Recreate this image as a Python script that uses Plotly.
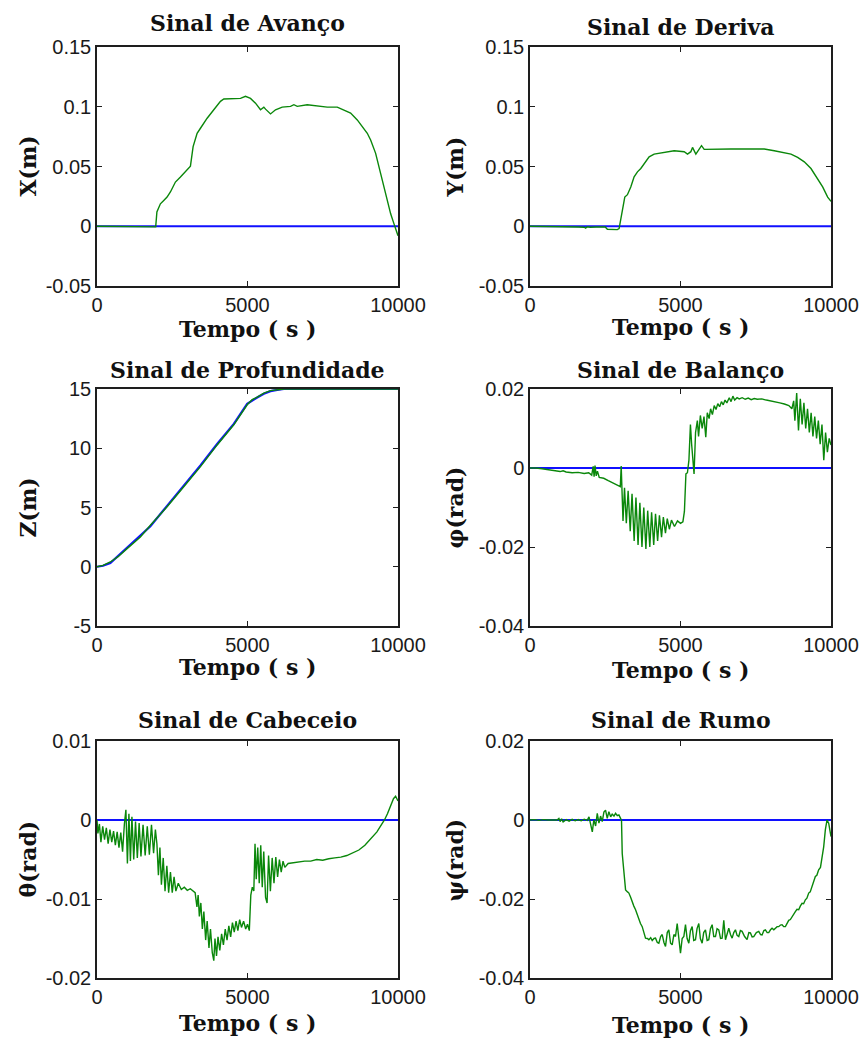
import plotly.graph_objects as go

W, H = 865, 1041

# ---------------------------------------------------------------- data
# reference (set-point) lines
t_ref = [0, 10000]
zero_ref = [0.0, 0.0]

# surge X (m)
t_x = [0, 900, 950, 1100, 1250, 1400, 1550, 1700, 1850, 1950,
       1990, 2106, 2217, 2328, 2439, 2605, 2772, 2938, 3104, 3193,
       3326, 3437, 3659, 3880, 4102, 4213, 4545, 4767, 4933, 5100,
       5266, 5432, 5543, 5599, 5765, 5931, 6153, 6430, 6541, 6652,
       6984, 7317, 7650, 7982, 8204, 8426, 8647, 8869, 8980, 9091,
       9257, 9424, 9590, 9756, 9867, 10000]
x_sig = [0.0, 0.0, -0.0005, -0.0003, -0.0006, -0.0004, -0.0006, -0.0005, -0.0006, -0.0005,
         0.012, 0.0188, 0.0216, 0.0244, 0.0287, 0.037, 0.0413, 0.0455, 0.0503, 0.0666,
         0.0778, 0.082, 0.0904, 0.0975, 0.1045, 0.1065, 0.1065, 0.107, 0.1087, 0.107,
         0.103, 0.0975, 0.0997, 0.098, 0.094, 0.0975, 0.0997, 0.1003, 0.1017, 0.1003,
         0.1017, 0.1008, 0.0997, 0.0997, 0.0975, 0.0947, 0.089, 0.082, 0.0778, 0.0722,
         0.061, 0.0441, 0.0272, 0.0104, 0.002, -0.0079]

# sway Y (m)
t_y = [0, 500, 550, 650, 800, 1000, 1200, 1400, 1600, 1800,
       1850, 1900, 2000, 2200, 2400, 2500, 2570, 2700, 2900, 2960,
       3015, 3071, 3149, 3237, 3348, 3459, 3570, 3681, 3792, 3958,
       4124, 4457, 4789, 5122, 5233, 5344, 5399, 5510, 5565, 5698,
       5787, 6120, 6674, 7228, 7783, 8115, 8448, 8670, 8892, 9113,
       9335, 9557, 9723, 9889, 10000]
y_sig = [0.0, 0.0, -0.0006, -0.0002, -0.0005, -0.0003, -0.0006, -0.0004, -0.0006, -0.0008,
         -0.0015, -0.0004, -0.0008, -0.0006, -0.0007, -0.0006, -0.0025, -0.0028, -0.0028, -0.002,
         0.0048, 0.0146, 0.0244, 0.0264, 0.0329, 0.0413, 0.0455, 0.0483, 0.0525, 0.0581,
         0.0604, 0.0618, 0.0632, 0.0624, 0.0604, 0.0624, 0.066, 0.0604, 0.0624, 0.0674,
         0.0643, 0.0646, 0.0646, 0.0646, 0.0646, 0.0632, 0.0618, 0.0604, 0.0576, 0.0539,
         0.0483, 0.0399, 0.0329, 0.0244, 0.0208]

# depth Z (m): measured and commanded
t_z = [0, 200, 443, 700, 998, 1441, 1774, 2328, 2882, 3437,
       3991, 4545, 4989, 5155, 5322, 5543, 5765, 5987, 6208, 10000]
z_sig = [0.0, 0.12, 0.4, 0.85, 1.53, 2.51, 3.5, 5.06, 6.75, 8.45,
         10.28, 11.98, 13.67, 14.1, 14.32, 14.66, 14.86, 14.94, 15.0, 15.0]
z_ref = [0.0, 0.08, 0.32, 0.92, 1.62, 2.6, 3.42, 5.14, 6.82, 8.55,
         10.36, 12.06, 13.75, 14.05, 14.28, 14.6, 14.82, 14.92, 15.0, 15.0]

# roll phi (rad)
t_phi = [0, 200, 400, 600, 800, 1000, 1100, 1200, 1400, 1600,
         1800, 1950, 2050, 2100, 2130, 2160, 2200, 2240, 2300, 2450,
         2600, 2750, 2900, 3000, 3030, 3060, 3090, 3140, 3200, 3260,
         3330, 3390, 3460, 3520, 3590, 3650, 3720, 3780, 3850, 3910,
         3980, 4040, 4110, 4170, 4240, 4300, 4370, 4430, 4500, 4560,
         4630, 4700, 4800, 4900, 5000, 5080, 5130, 5180, 5230, 5280,
         5330, 5370, 5410, 5450, 5500, 5560, 5600, 5660, 5720, 5780,
         5840, 5890, 5950, 6000, 6060, 6120, 6180, 6240, 6300, 6360,
         6420, 6480, 6540, 6620, 6680, 6740, 6800, 6880, 6950, 7050,
         7150, 7250, 7350, 7450, 7550, 7700, 7850, 8000, 8150, 8300,
         8450, 8600, 8700, 8760, 8800, 8860, 8920, 8980, 9040, 9100,
         9160, 9220, 9280, 9340, 9400, 9460, 9520, 9580, 9640, 9700,
         9760, 9820, 9880, 9940, 10000]
phi_sig = [0.0, 0.0, -0.0002, -0.0004, -0.0006, -0.0009, -0.0007, -0.0010, -0.0012, -0.0011,
           -0.0014, -0.0012, -0.0018, 0.0004, -0.0022, 0.0006, -0.0020, -0.0008, -0.0024, -0.0026,
           -0.0032, -0.0037, -0.0042, -0.0047, 0.0005, -0.0046, -0.0134, -0.0050, -0.0140, -0.0058,
           -0.0160, -0.0065, -0.0185, -0.0075, -0.0195, -0.0088, -0.0200, -0.0100, -0.0205, -0.0108,
           -0.0200, -0.0112, -0.0195, -0.0116, -0.0185, -0.0120, -0.0175, -0.0124, -0.0165, -0.0128,
           -0.0155, -0.0132, -0.0148, -0.0134, -0.0140, -0.0136, -0.0110, -0.0015, -0.0012, 0.0020,
           0.0110, 0.0060, 0.0025, -0.0015, 0.0090, 0.0120, 0.0080, 0.0133, 0.0100, 0.0130,
           0.0078, 0.0140, 0.0125, 0.0150, 0.0135, 0.0158, 0.0148, 0.0163, 0.0155, 0.0168,
           0.0160, 0.0172, 0.0165, 0.0178, 0.0168, 0.0182, 0.0172, 0.0178, 0.0175, 0.0178,
           0.0174, 0.0177, 0.0173, 0.0176, 0.0174, 0.0175, 0.0172, 0.0170, 0.0168, 0.0165,
           0.0162, 0.0158, 0.0150, 0.0170, 0.0120, 0.0190, 0.0095, 0.0175, 0.0110, 0.0165,
           0.0100, 0.0150, 0.0090, 0.0140, 0.0080, 0.0130, 0.0075, 0.0120, 0.0060, 0.0110,
           0.0020, 0.0090, 0.0040, 0.0075, 0.0058]

# pitch theta (rad)
t_theta = [0, 30, 80, 130, 190, 250, 310, 370, 430, 490,
           550, 610, 670, 730, 790, 850, 910, 960, 1010, 1060,
           1110, 1160, 1220, 1280, 1340, 1400, 1460, 1530, 1600, 1670,
           1740, 1810, 1880, 1940, 1990, 2040, 2090, 2140, 2200, 2260,
           2320, 2380, 2440, 2500, 2560, 2620, 2700, 2800, 2900, 3000,
           3100, 3200, 3260, 3320, 3360, 3400, 3450, 3500, 3550, 3610,
           3660, 3720, 3770, 3830, 3880, 3920, 3970, 4020, 4080, 4140,
           4200, 4260, 4320, 4380, 4440, 4500, 4560, 4620, 4680, 4740,
           4800, 4870, 4940, 5000, 5060, 5110, 5160, 5210, 5250, 5290,
           5340, 5390, 5440, 5490, 5540, 5600, 5650, 5700, 5760, 5820,
           5880, 5940, 6000, 6060, 6120, 6180, 6240, 6350, 6500, 6700,
           6900, 7100, 7300, 7500, 7700, 7900, 8100, 8300, 8500, 8700,
           8900, 9100, 9300, 9450, 9550, 9650, 9750, 9850, 9920, 10000]
theta_sig = [0.0, -0.0017, -0.0005, -0.0028, -0.0008, -0.0025, -0.0010, -0.0030, -0.0012, -0.0028,
             -0.0014, -0.0032, -0.0015, -0.0035, -0.0016, -0.0040, -0.0005, 0.0013, -0.0055, 0.0008,
             -0.0052, 0.0004, -0.0050, -0.0002, -0.0048, -0.0004, -0.0046, -0.0006, -0.0045, -0.0008,
             -0.0044, -0.0006, -0.0042, -0.0012, -0.0030, -0.0070, -0.0035, -0.0082, -0.0048, -0.0090,
             -0.0058, -0.0092, -0.0066, -0.0092, -0.0072, -0.0090, -0.0080, -0.0088, -0.0085, -0.0089,
             -0.0087, -0.0090, -0.0092, -0.0110, -0.0095, -0.0122, -0.0105, -0.0138, -0.0116, -0.0152,
             -0.0128, -0.0162, -0.0138, -0.0168, -0.0178, -0.0150, -0.0172, -0.0148, -0.0165, -0.0144,
             -0.0158, -0.0138, -0.0152, -0.0134, -0.0148, -0.0130, -0.0142, -0.0128, -0.0140, -0.0126,
             -0.0136, -0.0128, -0.0138, -0.0132, -0.0140, -0.0095, -0.0085, -0.0090, -0.0030, -0.0075,
             -0.0035, -0.0080, -0.0032, -0.0085, -0.0040, -0.0098, -0.0105, -0.0045, -0.0090, -0.0048,
             -0.0080, -0.0047, -0.0072, -0.0050, -0.0066, -0.0052, -0.0060, -0.0055, -0.0054, -0.0053,
             -0.0052, -0.0052, -0.0050, -0.0051, -0.0049, -0.0048, -0.0047, -0.0045, -0.0041, -0.0038,
             -0.0032, -0.0024, -0.0015, -0.0006, 0.0000, 0.0008, 0.0018, 0.0027, 0.0030, 0.0024]

# yaw psi (rad)
t_psi = [0, 150, 300, 450, 600, 900, 960, 1000, 1050, 1100,
         1200, 1300, 1400, 1500, 1600, 1700, 1800, 1900, 1960, 2010,
         2070, 2120, 2180, 2235, 2290, 2345, 2400, 2455, 2510, 2566,
         2620, 2680, 2730, 2790, 2843, 2900, 2953, 3009, 3040, 3064,
         3120, 3175, 3240, 3285, 3340, 3396, 3450, 3507, 3560, 3617,
         3670, 3728, 3780, 3838, 3900, 3949, 4010, 4060, 4120, 4170,
         4230, 4281, 4340, 4392, 4450, 4502, 4560, 4613, 4670, 4724,
         4780, 4834, 4890, 4945, 5000, 5055, 5111, 5166, 5220, 5277,
         5330, 5387, 5440, 5498, 5550, 5608, 5660, 5719, 5770, 5830,
         5885, 5940, 5995, 6051, 6105, 6162, 6215, 6272, 6330, 6383,
         6438, 6494, 6550, 6604, 6660, 6715, 6770, 6825, 6880, 6936,
         6990, 7046, 7130, 7212, 7270, 7323, 7380, 7434, 7520, 7600,
         7660, 7710, 7770, 7821, 7880, 7931, 7990, 8042, 8100, 8153,
         8210, 8263, 8320, 8374, 8430, 8485, 8540, 8595, 8650, 8706,
         8760, 8816, 8870, 8927, 8980, 9038, 9090, 9148, 9200, 9259,
         9310, 9369, 9420, 9480, 9530, 9590, 9650, 9701, 9757, 9812,
         9867, 9923, 10000]
psi_sig = [0.0, 0.0001, -0.0001, 0.0001, 0.0, 0.0, 0.0004, -0.0004, 0.0003, -0.0005,
           0.0001, -0.0003, 0.0002, -0.0002, 0.0001, -0.0002, 0.0002, -0.0001, 0.0008, -0.0012,
           -0.0030, 0.0000, -0.0015, 0.0017, -0.0008, 0.0010, -0.0004, 0.0020, 0.0025, 0.0004,
           0.0021, 0.0008, 0.0015, 0.0010, 0.0017, 0.0011, 0.0013, 0.0004, 0.0000, -0.0085,
           -0.0143, -0.0177, -0.0182, -0.0185, -0.0195, -0.0210, -0.0218, -0.0227, -0.0240, -0.0252,
           -0.0262, -0.0270, -0.0285, -0.0299, -0.0300, -0.0303, -0.0298, -0.0305, -0.0300, -0.0299,
           -0.0310, -0.0312, -0.0295, -0.0290, -0.0310, -0.0320, -0.0285, -0.0278, -0.0312, -0.0316,
           -0.0290, -0.0295, -0.0262, -0.0300, -0.0337, -0.0300, -0.0295, -0.0265, -0.0300, -0.0312,
           -0.0280, -0.0270, -0.0305, -0.0303, -0.0275, -0.0262, -0.0300, -0.0312, -0.0285, -0.0278,
           -0.0305, -0.0303, -0.0275, -0.0265, -0.0295, -0.0295, -0.0275, -0.0278, -0.0300, -0.0299,
           -0.0254, -0.0303, -0.0290, -0.0274, -0.0290, -0.0299, -0.0285, -0.0278, -0.0292, -0.0295,
           -0.0280, -0.0282, -0.0295, -0.0303, -0.0285, -0.0286, -0.0296, -0.0295, -0.0285, -0.0282,
           -0.0290, -0.0291, -0.0280, -0.0278, -0.0285, -0.0285, -0.0278, -0.0274, -0.0278, -0.0274,
           -0.0270, -0.0270, -0.0266, -0.0265, -0.0270, -0.0270, -0.0262, -0.0254, -0.0252, -0.0244,
           -0.0240, -0.0232, -0.0226, -0.0227, -0.0218, -0.0211, -0.0212, -0.0202, -0.0198, -0.0185,
           -0.0182, -0.0168, -0.0160, -0.0143, -0.0140, -0.0126, -0.0120, -0.0097, -0.0068, -0.0025,
           0.0000, -0.0008, -0.0042]

# axis ticks
x_tickvals = [0, 5000, 10000]
x_ticktext = ["0", "5000", "10000"]
yt_pos = [-0.05, 0.0, 0.05, 0.1, 0.15]
yt_pos_txt = ["-0.05", "0", "0.05", "0.1", "0.15"]
yt_depth = [-5, 0, 5, 10, 15]
yt_depth_txt = ["-5", "0", "5", "10", "15"]
yt_roll = [-0.04, -0.02, 0.0, 0.02]
yt_roll_txt = ["-0.04", "-0.02", "0", "0.02"]
yt_pitch = [-0.02, -0.01, 0.0, 0.01]
yt_pitch_txt = ["-0.02", "-0.01", "0", "0.01"]

titles = ["Sinal de Avanço", "Sinal de Deriva", "Sinal de Profundidade",
          "Sinal de Balanço", "Sinal de Cabeceio", "Sinal de Rumo"]
ylabels = ["X(m)", "Y(m)", "Z(m)", "φ(rad)", "θ(rad)", "ψ(rad)"]
xlabel = "Tempo ( s )"

# ---------------------------------------------------------------- layout
GREEN = "#0a870a"
BLUE = "#1010ff"
AXC = "#1e1e1e"
SERIF = "DejaVu Serif"
SANS = "Liberation Sans, Arial, sans-serif"

# subplot frames in pixels
col_px = [(97, 398), (530, 831)]
row_px = [(47, 286), (389, 626), (741, 978)]
# text placement (pixels): title baseline above frame, x-title baseline below frame,
# centre of the rotated y-title
title_gap = [16, 12, 11, 11, 13, 13]
xtitle_gap = [51, 49, 49, 52, 53, 55]
ytitle_x = [27, 454]


def fx(p):
    return p / W


def fy(p):
    return 1 - p / H


panels = [
    dict(t=t_x, v=x_sig, rt=t_ref, rv=zero_ref, rng=[-0.05, 0.15], tv=yt_pos, tt=yt_pos_txt),
    dict(t=t_y, v=y_sig, rt=t_ref, rv=zero_ref, rng=[-0.05, 0.15], tv=yt_pos, tt=yt_pos_txt),
    dict(t=t_z, v=z_sig, rt=t_z, rv=z_ref, rng=[-5, 15], tv=yt_depth, tt=yt_depth_txt),
    dict(t=t_phi, v=phi_sig, rt=t_ref, rv=zero_ref, rng=[-0.04, 0.02], tv=yt_roll, tt=yt_roll_txt),
    dict(t=t_theta, v=theta_sig, rt=t_ref, rv=zero_ref, rng=[-0.02, 0.01], tv=yt_pitch, tt=yt_pitch_txt),
    dict(t=t_psi, v=psi_sig, rt=t_ref, rv=zero_ref, rng=[-0.04, 0.02], tv=yt_roll, tt=yt_roll_txt),
]

fig = go.Figure()
annotations = []
layout_axes = {}

for i, p in enumerate(panels):
    assert len(p["t"]) == len(p["v"]) and len(p["rt"]) == len(p["rv"])
    r, c = divmod(i, 2)
    x0, x1 = col_px[c]
    y0, y1 = row_px[r]
    n = "" if i == 0 else str(i + 1)
    xa, ya = "x" + n, "y" + n

    fig.add_trace(go.Scatter(x=p["rt"], y=p["rv"], mode="lines", xaxis=xa, yaxis=ya,
                             line=dict(color=BLUE, width=2.2), hoverinfo="skip"))
    fig.add_trace(go.Scatter(x=p["t"], y=p["v"], mode="lines", xaxis=xa, yaxis=ya,
                             line=dict(color=GREEN, width=1.4), hoverinfo="skip"))

    common = dict(showline=True, linecolor=AXC, linewidth=1.5, mirror="ticks",
                  ticks="inside", ticklen=5, tickwidth=1.2, tickcolor=AXC,
                  showgrid=False, zeroline=False, layer="below traces", automargin=False,
                  tickfont=dict(family=SANS, size=20, color="#1a1a1a"))
    layout_axes["xaxis" + n] = dict(common, domain=[fx(x0), fx(x1)], anchor=ya,
                                    range=[0, 10000], tickmode="array",
                                    tickvals=x_tickvals, ticktext=x_ticktext)
    layout_axes["yaxis" + n] = dict(common, domain=[fy(y1), fy(y0)], anchor=xa,
                                    range=p["rng"], tickmode="array",
                                    tickvals=p["tv"], ticktext=p["tt"])

    cx = (x0 + x1) / 2
    cy = (y0 + y1) / 2
    label_font = dict(family=SERIF, size=22, color="#111111")
    annotations.append(dict(text="<b>%s</b>" % titles[i], x=fx(cx), y=fy(y0 - title_gap[i] + 7),
                            xref="paper", yref="paper", xanchor="center", yanchor="bottom",
                            showarrow=False, font=label_font))
    annotations.append(dict(text="<b>%s</b>" % xlabel, x=fx(cx), y=fy(y1 + xtitle_gap[i] - 23),
                            xref="paper", yref="paper", xanchor="center", yanchor="top",
                            showarrow=False, font=label_font))
    annotations.append(dict(text="<b>%s</b>" % ylabels[i], x=fx(ytitle_x[c]), y=fy(cy),
                            xref="paper", yref="paper", xanchor="center", yanchor="middle",
                            textangle=-90, showarrow=False, font=label_font))

fig.update_layout(template="none", width=W, height=H, autosize=False,
                  margin=dict(l=0, r=0, t=0, b=0, autoexpand=False),
                  paper_bgcolor="white", plot_bgcolor="white", showlegend=False,
                  annotations=annotations, **layout_axes)

fig.write_html("out.html", config={"responsive": False})
